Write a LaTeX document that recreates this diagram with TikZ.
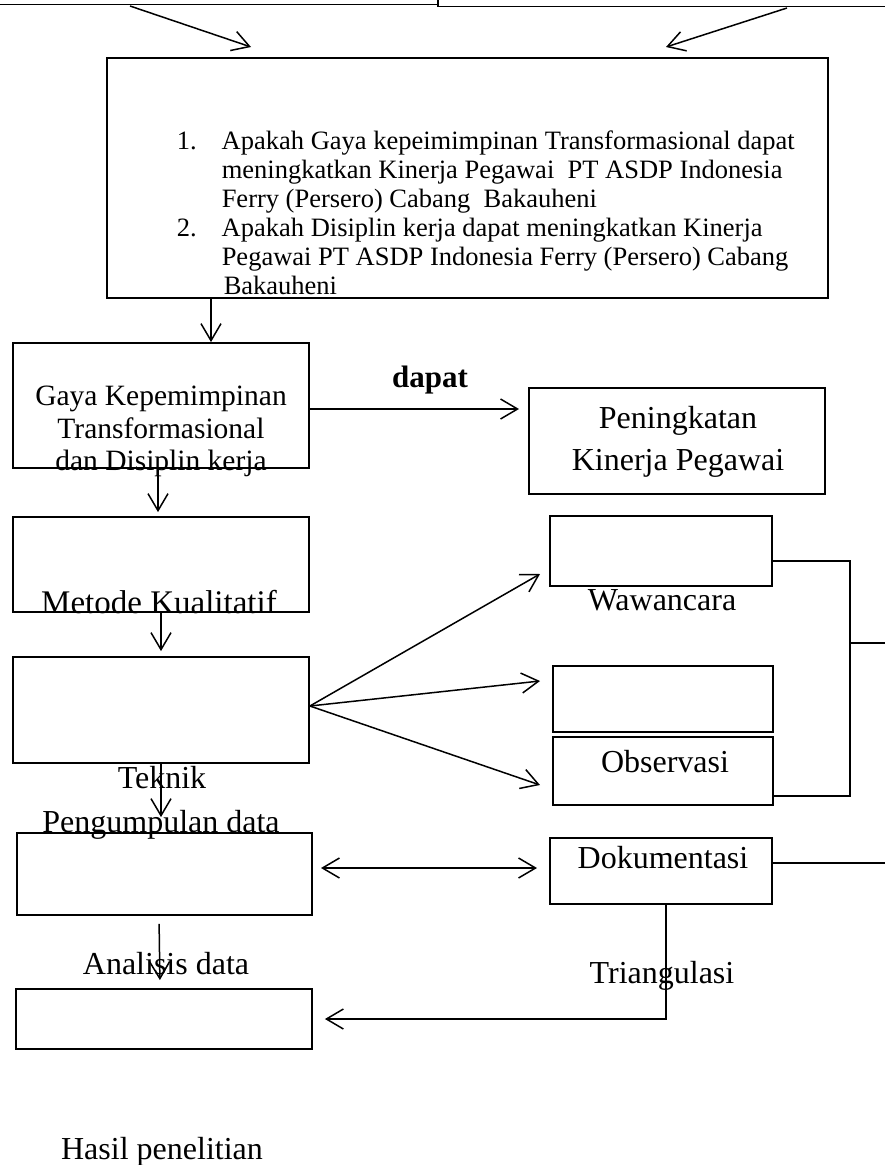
\documentclass[tikz,border=0pt]{standalone}
\usepackage{fontspec}
\setmainfont{Liberation Serif}
\usetikzlibrary{arrows.meta}

\begin{document}
\begin{tikzpicture}[x=1pt,y=-1pt,line width=1.5pt,
        kotak/.style={draw,rectangle,line width=1.8pt,inner sep=0},
        panah/.style={-{Straight Barb[length=17pt,width=20pt]}},
        duapanah/.style={{Straight Barb[length=17pt,width=20pt]}-{Straight Barb[length=17pt,width=20pt]}},
        teks/.style={inner sep=0,anchor=base,font=\fontsize{32}{35}\selectfont},
        soal/.style={inner sep=0,anchor=base west,font=\fontsize{26.5}{29}\selectfont},
        ]
        \fill[white] (0,0) rectangle (885,1165);
        \useasboundingbox (0,0) rectangle (885,1165);

        % kotak yang terpotong di atas
        \node[kotak,minimum width=450,minimum height=100] (teori) at (213.5,-45.5) {};
        \node[kotak,minimum width=451,minimum height=100] (kerangka) at (663.5,-43.5) {};

        % kotak-kotak
        \node[kotak,minimum width=721,minimum height=240] (masalah) at (467.5,178) {};
        \node[kotak,minimum width=296,minimum height=125] (gaya) at (161,405.5) {};
        \node[kotak,minimum width=296,minimum height=106] (naik) at (677,441) {};
        \node[kotak,minimum width=296,minimum height=95] (metode) at (161,564.5) {};
        \node[kotak,minimum width=296,minimum height=106] (teknik) at (161,710) {};
        \node[kotak,minimum width=222,minimum height=70] (wawancara) at (661,551) {};
        \node[kotak,minimum width=220,minimum height=66] (kosong) at (663,699) {};
        \node[kotak,minimum width=220,minimum height=68] (observasi) at (663,771) {};
        \node[kotak,minimum width=222,minimum height=66] (dokumentasi) at (661,871) {};
        \node[kotak,minimum width=295,minimum height=82] (analisis) at (164.5,874) {};
        \node[kotak,minimum width=296,minimum height=60] (hasil) at (164,1019) {};

        % rumusan masalah
        \foreach \baris [count=\i from 0] in {
            {\makebox[45pt][l]{1.}Apakah Gaya kepeimimpinan Transformasional dapat},
            {\hspace*{45pt}meningkatkan Kinerja Pegawai\ \ PT ASDP Indonesia},
            {\hspace*{45pt}Ferry (Persero) Cabang\ \ Bakauheni},
            {\makebox[45pt][l]{2.}Apakah Disiplin kerja dapat meningkatkan Kinerja},
            {\hspace*{45pt}Pegawai PT ASDP Indonesia Ferry (Persero) Cabang},
            {\hspace*{47pt}Bakauheni}}{
            \node[soal] (q\i) at (176,{149+29*\i}) {\baris};
        }

        % teks
        \node[teks,font=\bfseries\fontsize{31}{35}\selectfont] (dapat) at (430,387) {dapat};
        \node[teks,font=\fontsize{29.5}{33}\selectfont] (gaya1) at (161,405) {Gaya Kepemimpinan};
        \node[teks,font=\fontsize{29.5}{33}\selectfont] (gaya2) at (161,438) {Transformasional};
        \node[teks,font=\fontsize{29.5}{33}\selectfont] (gaya3) at (161,470) {dan Disiplin kerja};
        \node[teks] (naik1) at (678,428) {Peningkatan};
        \node[teks] (naik2) at (678,470) {Kinerja Pegawai};
        \node[teks,font=\fontsize{33}{35}\selectfont] (metode1) at (159,613) {Metode Kualitatif};
        \node[teks] (teknik1) at (162,788) {Teknik};
        \node[teks] (teknik2) at (161,832) {Pengumpulan data};
        \node[teks] (wawancara1) at (662,610) {Wawancara};
        \node[teks] (observasi1) at (665,772) {Observasi};
        \node[teks] (dokumentasi1) at (663,868) {Dokumentasi};
        \node[teks] (triangulasi) at (662,983) {Triangulasi};
        \node[teks] (analisis1) at (166,974) {Analisis data};
        \node[teks] (hasil1) at (162,1159) {Hasil penelitian};

        % ujung bebas
        \coordinate (a1) at (130,6);
        \coordinate (a2) at (251,47);
        \coordinate (b1) at (787,8);
        \coordinate (b2) at (666,47);
        \coordinate (g1) at ([xshift=50pt]gaya.north);
        \coordinate (c2) at (519,409);
        \coordinate (f0) at ([yshift=4pt]teknik.east);
        \coordinate (f1) at (540,574);
        \coordinate (f2) at (540,681);
        \coordinate (f3) at (540,785);
        \coordinate (d1) at (321,868);
        \coordinate (d2) at (537,868);
        \coordinate (k1) at (850,643);
        \coordinate (k2) at (885,643);
        \coordinate (k3) at (885,863);

        % panah
        \draw[panah] (a1) -- (a2);
        \draw[panah] (b1) -- (b2);
        \draw[panah] (g1 |- masalah.south) -- (g1);
        \draw[panah] (gaya.east |- c2) -- (c2);
        \draw[panah,shorten >=4pt] ([xshift=-3pt]gaya.south) -- ([xshift=-3pt]metode.north);
        \draw[panah,shorten >=5pt] (metode.south) -- (teknik.north);
        \draw[panah,shorten >=15pt] (teknik.south) -- (analisis.north -| teknik.south);
        \foreach \t in {f1,f2,f3}
            \draw[panah] (f0) -- (\t);
        \draw[duapanah] (d1) -- (d2);
        \draw[panah] ([xshift=5pt]dokumentasi.south) |- ([xshift=12pt]hasil.east);
        \draw[panah,shorten <=8pt,shorten >=8pt] ([xshift=-5.5pt]analisis.south) -- ([xshift=-4pt]hasil.north);

        % garis kanan
        \draw ([yshift=-10pt]wawancara.east) -| (k1);
        \draw ([yshift=-25pt]observasi.east) -| (k1);
        \draw (k1) -- (k2);
        \draw (dokumentasi.east |- k3) -- (k3);
\end{tikzpicture}
\end{document}
